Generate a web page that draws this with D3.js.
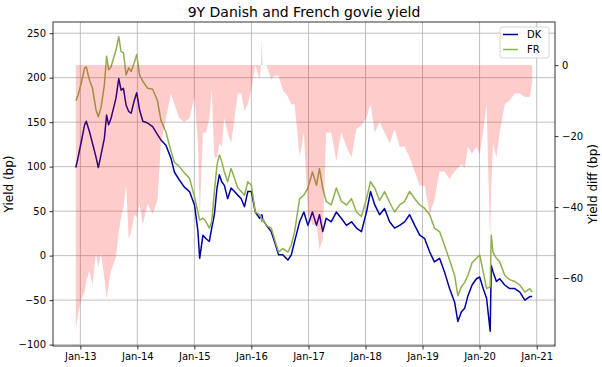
<!DOCTYPE html>
<html>
<head>
<meta charset="utf-8">
<script src="https://cdn.jsdelivr.net/npm/d3@7"></script>
<style>
	body { margin: 0; background: #fff; }
	text { font-family: "DejaVu Sans", sans-serif; }
</style>
</head>
<body>
<svg id="chart" width="602" height="367"></svg>
<script>
// values (bp)
var dates = ["2012-12-03","2012-12-17","2013-01-07","2013-01-28","2013-02-08","2013-03-01","2013-03-20","2013-04-11","2013-04-26","2013-05-13",
	"2013-06-04","2013-06-18","2013-07-01","2013-07-16","2013-08-02","2013-08-17","2013-09-04","2013-09-19","2013-10-04","2013-10-21",
	"2013-11-07","2013-11-22","2013-12-13","2013-12-28","2014-01-15","2014-02-05","2014-03-08","2014-04-09","2014-05-10","2014-06-01",
	"2014-07-03","2014-08-05","2014-08-26","2014-09-27","2014-10-29","2014-12-01","2015-01-02","2015-01-24","2015-02-04","2015-02-25",
	"2015-03-17","2015-04-07","2015-04-22","2015-05-09","2015-05-26","2015-06-10","2015-06-25","2015-07-12","2015-08-02","2015-08-24",
	"2015-09-15","2015-10-06","2015-10-28","2015-11-18","2015-12-09","2016-01-01","2016-01-26","2016-02-23","2016-03-03","2016-03-08",
	"2016-03-13","2016-04-06","2016-05-07","2016-05-28","2016-06-23","2016-07-20","2016-08-22","2016-09-13","2016-10-04","2016-11-05",
	"2016-12-02","2016-12-28","2017-01-26","2017-02-21","2017-03-12","2017-04-02","2017-04-24","2017-05-26","2017-06-28","2017-07-30",
	"2017-09-01","2017-10-03","2017-11-04","2017-12-06","2018-01-07","2018-02-02","2018-03-01","2018-04-01","2018-05-03","2018-06-04",
	"2018-07-06","2018-08-07","2018-09-08","2018-10-10","2018-11-12","2018-12-14","2019-01-15","2019-02-16","2019-03-18","2019-04-20",
	"2019-05-21","2019-06-23","2019-07-25","2019-08-15","2019-09-07","2019-09-28","2019-10-19","2019-11-14","2019-12-12","2020-01-02",
	"2020-01-24","2020-02-15","2020-03-09","2020-03-16","2020-03-27","2020-04-18","2020-05-09","2020-06-10","2020-07-12","2020-08-13",
	"2020-09-15","2020-10-17","2020-11-18","2020-12-03"];

var dk = [99,110,128,147,151,139,126,111,99,113,
	132,158,147,154,166,177,199,186,188,169,
	162,160,175,183,164,151,149,145,136,130,
	124,109,94,85,77,72,57,27,-3,23,
	19,16,31,46,76,91,83,79,64,76,
	72,68,64,55,72,72,49,42,44,46,
	41,34,27,16,1,1,-5,1,16,38,
	49,34,49,34,46,27,42,38,49,42,
	34,38,31,27,49,72,57,46,53,38,
	31,34,38,46,34,23,19,4,-7,-3,
	-18,-37,-52,-74,-63,-59,-45,-33,-26,-24,
	-37,-48,-85,-11,-18,-29,-26,-33,-37,-37,
	-41,-50,-46,-46];

var fr = [174,180,194,211,212,197,188,164,156,166,
	192,224,209,212,222,231,246,229,228,203,
	211,207,217,226,203,196,188,187,174,152,
	139,117,105,100,93,87,66,49,40,42,
	38,31,38,72,102,113,106,94,83,98,
	87,76,72,68,83,79,49,46,44,38,
	41,34,31,19,4,8,4,12,27,64,
	68,76,94,79,98,76,61,57,76,61,
	57,64,49,44,64,83,76,62,72,60,
	49,57,61,72,64,57,53,46,31,27,
	12,-5,-22,-45,-35,-30,-22,-8,-3,1,
	-18,-37,-35,23,4,-3,-7,-22,-27,-29,
	-33,-41,-37,-41];

var seriesNames = ["DK", "FR"];
var seriesColors = ["#0000a0", "#8db151"];
var leftTicks = [-100, -50, 0, 50, 100, 150, 200, 250];
var rightTicks = [-60, -40, -20, 0];
var xTickYears = [2013, 2014, 2015, 2016, 2017, 2018, 2019, 2020, 2021];

initchart();

function initchart() {
	var svg = d3.select('#chart');
	var parse = d3.timeParse('%Y-%m-%d');
	var margin = {left: 53, right: 47, top: 22, bottom: 21};
	var width = +svg.attr('width');
	var height = +svg.attr('height');

	var rows = dates.map(function(d, i) {
		return {date: parse(d), dk: dk[i], fr: fr[i], diff: dk[i] - fr[i]};
	});

	// matplotlib style 5% margins
	function pad(ext) {
		var p = (ext[1] - ext[0]) * 0.05;
		return [ext[0] - p, ext[1] + p];
	}
	var tExt = d3.extent(rows, function(d) { return +d.date; });
	var x = d3.scaleTime()
		.domain(pad(tExt).map(function(t) { return new Date(t); }))
		.range([margin.left, width - margin.right]);
	var yL = d3.scaleLinear()
		.domain(pad([d3.min(rows, function(d) { return Math.min(d.dk, d.fr); }),
			d3.max(rows, function(d) { return Math.max(d.dk, d.fr); })]))
		.range([height - margin.bottom, margin.top]);
	var yR = d3.scaleLinear()
		.domain(pad(d3.extent(rows, function(d) { return d.diff; })))
		.range([height - margin.bottom, margin.top]);

	var x0 = margin.left, x1 = width - margin.right;
	var y0 = margin.top, y1 = height - margin.bottom;

	// grid
	var grid = svg.append('g').attr('stroke', '#b0b0b0').attr('stroke-width', 0.8);
	grid.selectAll('.gy').data(leftTicks).enter().append('line')
		.attr('x1', x0).attr('x2', x1)
		.attr('y1', function(d) { return yL(d); })
		.attr('y2', function(d) { return yL(d); });
	grid.selectAll('.gx').data(xTickYears).enter().append('line')
		.attr('y1', y0).attr('y2', y1)
		.attr('x1', function(d) { return x(new Date(d, 0, 1)); })
		.attr('x2', function(d) { return x(new Date(d, 0, 1)); });

	// lines
	var keys = ['dk', 'fr'];
	keys.forEach(function(k, i) {
		svg.append('path')
			.datum(rows)
			.attr('fill', 'none')
			.attr('stroke', seriesColors[i])
			.attr('stroke-width', 1.5)
			.attr('stroke-linejoin', 'round')
			.attr('d', d3.line()
				.x(function(d) { return x(d.date); })
				.y(function(d) { return yL(d[k]); }));
	});

	// legend
	var lg = svg.append('g').attr('transform', 'translate(500, 27)');
	lg.append('rect')
		.attr('width', 49).attr('height', 31).attr('rx', 2)
		.attr('fill', 'white').attr('fill-opacity', 0.8)
		.attr('stroke', '#cccccc').attr('stroke-width', 0.8);
	seriesNames.forEach(function(name, i) {
		var yy = 7.5 + i * 15;
		lg.append('line')
			.attr('x1', 3).attr('x2', 18).attr('y1', yy).attr('y2', yy)
			.attr('stroke', seriesColors[i]).attr('stroke-width', 1.5);
		lg.append('text')
			.attr('x', 27).attr('y', yy + 3.5)
			.attr('font-size', 10)
			.text(name);
	});

	// diff fill on the twin axis, drawn over the lines
	svg.append('path')
		.datum(rows)
		.attr('fill', 'red').attr('fill-opacity', 0.2)
		.attr('d', d3.area()
			.x(function(d) { return x(d.date); })
			.y0(yR(0))
			.y1(function(d) { return yR(Math.min(d.diff, 0)); }));
	svg.append('path')
		.datum(rows)
		.attr('fill', 'green').attr('fill-opacity', 0.2)
		.attr('d', d3.area()
			.x(function(d) { return x(d.date); })
			.y0(yR(0))
			.y1(function(d) { return yR(Math.max(d.diff, 0)); }));

	// axes
	var fmt = d3.timeFormat('%b-%y');
	var xAxis = svg.append('g')
		.attr('transform', `translate(0, ${y1})`)
		.call(d3.axisBottom(x)
			.tickValues(xTickYears.map(function(d) { return new Date(d, 0, 1); }))
			.tickFormat(fmt).tickSize(3.5).tickPadding(3.5));
	var leftAxis = svg.append('g')
		.attr('transform', `translate(${x0}, 0)`)
		.call(d3.axisLeft(yL).tickValues(leftTicks).tickSize(3.5).tickPadding(3.5));
	var rightAxis = svg.append('g')
		.attr('transform', `translate(${x1}, 0)`)
		.call(d3.axisRight(yR).tickValues(rightTicks).tickSize(3.5).tickPadding(3.5));
	[xAxis, leftAxis, rightAxis].forEach(function(a) {
		a.select('.domain').remove();
		a.selectAll('.tick line').attr('stroke', '#000').attr('stroke-width', 0.8);
		a.selectAll('text').attr('font-size', 10).attr('font-family', '"DejaVu Sans", sans-serif').attr('fill', '#000');
	});

	// frame
	svg.append('rect')
		.attr('x', x0).attr('y', y0)
		.attr('width', x1 - x0).attr('height', y1 - y0)
		.attr('fill', 'none').attr('stroke', '#000').attr('stroke-width', 0.8);

	// labels
	svg.append('text')
		.attr('x', (x0 + x1) / 2).attr('y', 17)
		.attr('text-anchor', 'middle').attr('font-size', 14)
		.text('9Y Danish and French govie yield');
	svg.append('text')
		.attr('transform', `translate(13, ${(y0 + y1) / 2}) rotate(-90)`)
		.attr('text-anchor', 'middle').attr('font-size', 12)
		.text('Yield (bp)');
	svg.append('text')
		.attr('transform', `translate(597, ${(y0 + y1) / 2}) rotate(-90)`)
		.attr('text-anchor', 'middle').attr('font-size', 12)
		.text('Yield diff (bp)');
}
</script>
</body>
</html>
